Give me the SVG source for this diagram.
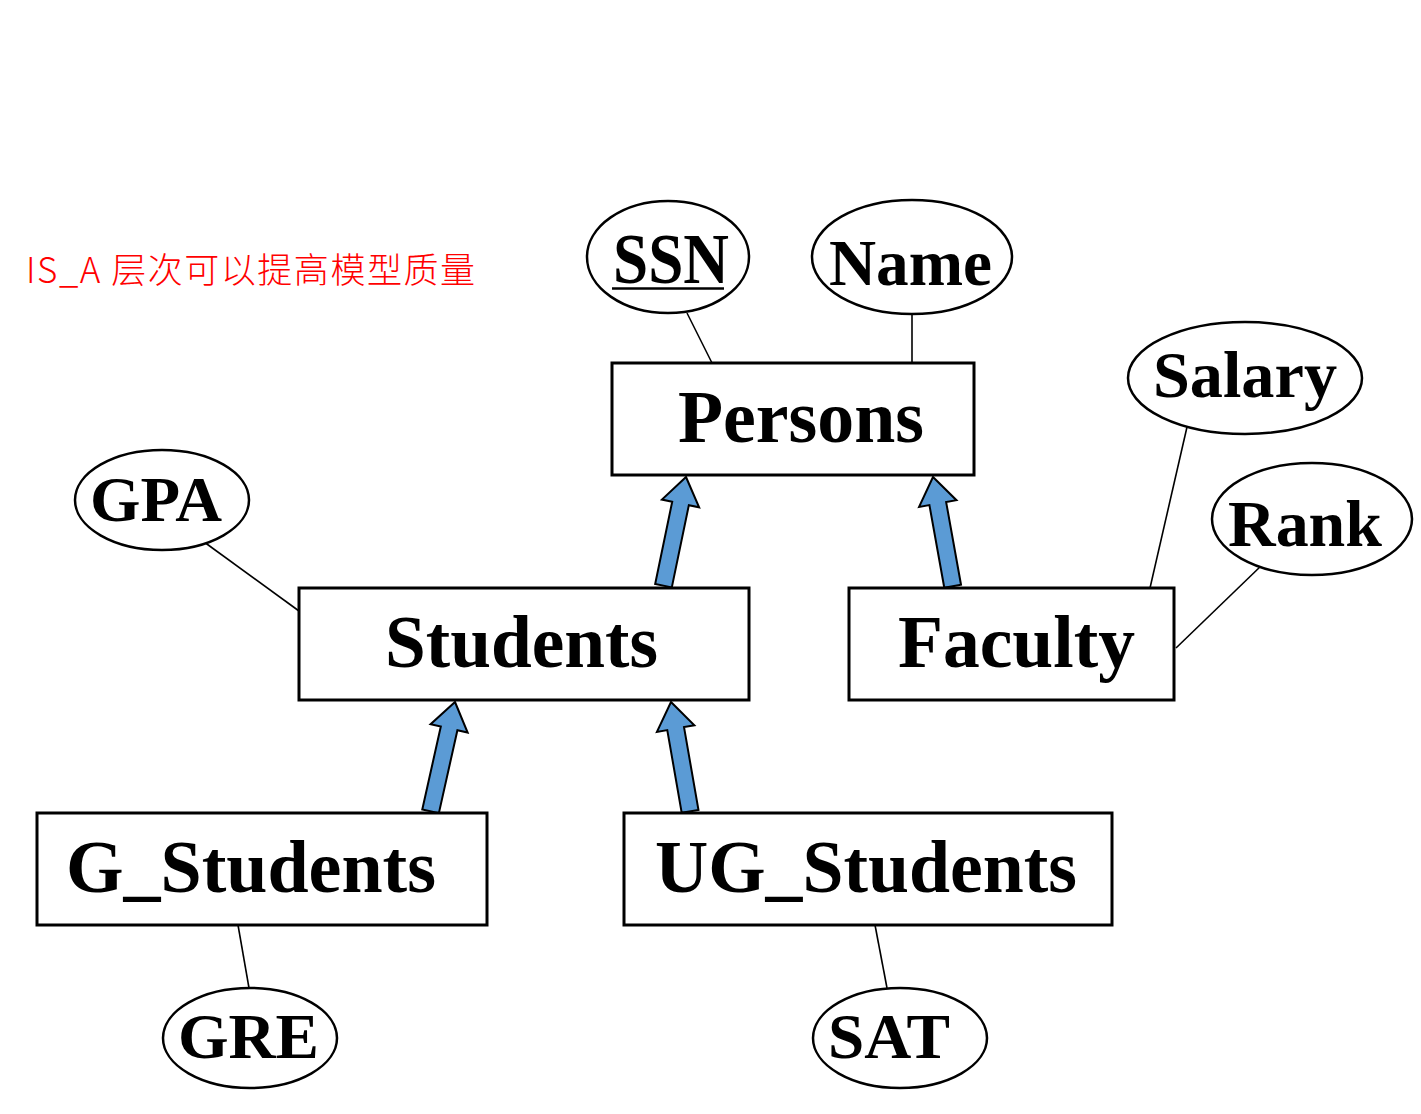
<svg xmlns="http://www.w3.org/2000/svg" width="1421" height="1114" viewBox="0 0 1421 1114">
<style>
.ent{fill:#fff;stroke:#000;stroke-width:3}
.att{fill:#fff;stroke:#000;stroke-width:2.5}
.lbl{font-family:"Liberation Serif","Times New Roman",serif;font-weight:bold;fill:#000}
.ln{stroke:#000;stroke-width:1.6;fill:none}
.isa{fill:#5B9BD5;stroke:#000;stroke-width:2;stroke-linejoin:miter}
.note{font-family:"Noto Sans CJK SC","Noto Sans",sans-serif;font-weight:300;fill:#FF0000;font-size:35px}
</style>
<rect width="1421" height="1114" fill="#fff"/>
<text class="note" x="26" y="283" textLength="449" lengthAdjust="spacing">IS_A 层次可以提高模型质量</text>
<g id="connectors">
<line class="ln" x1="687" y1="313" x2="712" y2="363"/>
<line class="ln" x1="912" y1="314" x2="912" y2="363"/>
<line class="ln" x1="1187" y1="427" x2="1150" y2="588"/>
<line class="ln" x1="1262" y1="565" x2="1176" y2="648"/>
<line class="ln" x1="200" y1="539" x2="299" y2="611"/>
<line class="ln" x1="238" y1="925" x2="249" y2="988"/>
<line class="ln" x1="875" y1="925" x2="887" y2="988"/>
<path class="isa" transform="translate(686,477) rotate(11.7)" d="M0,0 L19,27 L8.5,27 L8.5,111 L-8.5,111 L-8.5,27 L-19,27 Z"/>
<path class="isa" transform="translate(933,477) rotate(-10.2)" d="M0,0 L19,27 L8.5,27 L8.5,111 L-8.5,111 L-8.5,27 L-19,27 Z"/>
<path class="isa" transform="translate(455,702) rotate(12.6)" d="M0,0 L19,27 L8.5,27 L8.5,112 L-8.5,112 L-8.5,27 L-19,27 Z"/>
<path class="isa" transform="translate(671,702) rotate(-9.9)" d="M0,0 L19,27 L8.5,27 L8.5,111 L-8.5,111 L-8.5,27 L-19,27 Z"/>
</g>
<g id="ssn">
<ellipse class="att" cx="668" cy="257" rx="81" ry="56"/>
<text class="lbl" x="613" y="283" font-size="72" textLength="116" lengthAdjust="spacingAndGlyphs">SSN</text>
<line x1="612" y1="288.5" x2="724" y2="288.5" stroke="#000" stroke-width="2.5"/>
</g>
<g id="name">
<ellipse class="att" cx="912" cy="257" rx="100" ry="57"/>
<text class="lbl" x="829" y="285" font-size="66" textLength="163" lengthAdjust="spacingAndGlyphs">Name</text>
</g>
<g id="persons">
<rect class="ent" x="612" y="363" width="362" height="112"/>
<text class="lbl" x="678" y="442" font-size="73" textLength="246" lengthAdjust="spacingAndGlyphs">Persons</text>
</g>
<g id="salary">
<ellipse class="att" cx="1245" cy="378" rx="117" ry="56"/>
<text class="lbl" x="1153" y="397" font-size="66" textLength="184" lengthAdjust="spacingAndGlyphs">Salary</text>
</g>
<g id="rank">
<ellipse class="att" cx="1312" cy="519" rx="100" ry="56"/>
<text class="lbl" x="1228" y="546" font-size="66" textLength="154" lengthAdjust="spacingAndGlyphs">Rank</text>
</g>
<g id="faculty">
<rect class="ent" x="849" y="588" width="325" height="112"/>
<text class="lbl" x="898" y="667" font-size="73" textLength="237" lengthAdjust="spacingAndGlyphs">Faculty</text>
</g>
<g id="gpa">
<ellipse class="att" cx="162" cy="500" rx="87" ry="50"/>
<text class="lbl" x="90" y="521" font-size="64" textLength="132" lengthAdjust="spacingAndGlyphs">GPA</text>
</g>
<g id="students">
<rect class="ent" x="299" y="588" width="450" height="112"/>
<text class="lbl" x="385" y="667" font-size="73" textLength="273" lengthAdjust="spacingAndGlyphs">Students</text>
</g>
<g id="g_students">
<rect class="ent" x="37" y="813" width="450" height="112"/>
<text class="lbl" x="66" y="892" font-size="73" textLength="370" lengthAdjust="spacingAndGlyphs">G_Students</text>
</g>
<g id="ug_students">
<rect class="ent" x="624" y="813" width="488" height="112"/>
<text class="lbl" x="655" y="892" font-size="73" textLength="422" lengthAdjust="spacingAndGlyphs">UG_Students</text>
</g>
<g id="gre">
<ellipse class="att" cx="250" cy="1038" rx="87" ry="50"/>
<text class="lbl" x="178" y="1058" font-size="64" textLength="141" lengthAdjust="spacingAndGlyphs">GRE</text>
</g>
<g id="sat">
<ellipse class="att" cx="900" cy="1038" rx="87" ry="50"/>
<text class="lbl" x="828" y="1058" font-size="64" textLength="122" lengthAdjust="spacingAndGlyphs">SAT</text>
</g>
</svg>
